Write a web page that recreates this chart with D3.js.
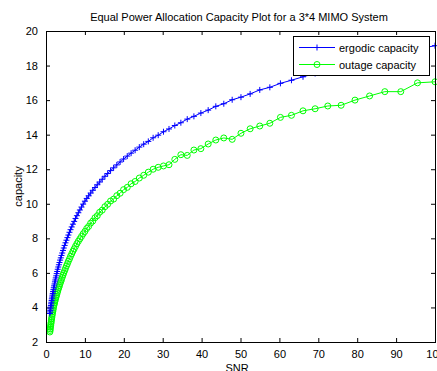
<!DOCTYPE html>
<html>
<head>
<meta charset="utf-8">
<script src="https://cdn.jsdelivr.net/npm/d3@7"></script>
<style>
  html, body { margin: 0; padding: 0; background: #fff; }
  svg { display: block; font-family: "Liberation Sans", Arial, sans-serif; }
</style>
</head>
<body>
<svg id="chart" width="437" height="371"></svg>
<script>
// SNR (linear), one point every 0.2 dB from 0 to 20 dB
const snr = [1.00,1.05,1.10,1.15,1.20,1.26,1.32,1.38,1.45,1.51,
  1.58,1.66,1.74,1.82,1.91,2.00,2.09,2.19,2.29,2.40,
  2.51,2.63,2.75,2.88,3.02,3.16,3.31,3.47,3.63,3.80,
  3.98,4.17,4.37,4.57,4.79,5.01,5.25,5.50,5.75,6.03,
  6.31,6.61,6.92,7.24,7.59,7.94,8.32,8.71,9.12,9.55,
  10.00,10.47,10.96,11.48,12.02,12.59,13.18,13.80,14.45,15.14,
  15.85,16.60,17.38,18.20,19.05,19.95,20.89,21.88,22.91,23.99,
  25.12,26.30,27.54,28.84,30.20,31.62,33.11,34.67,36.31,38.02,
  39.81,41.69,43.65,45.71,47.86,50.12,52.48,54.95,57.54,60.26,
  63.10,66.07,69.18,72.44,75.86,79.43,83.18,87.10,91.20,95.50,
  100.00];

const ergodic = [3.65,3.74,3.83,3.92,4.02,4.11,4.21,4.30,4.40,4.50,
  4.60,4.71,4.81,4.92,5.03,5.14,5.25,5.36,5.48,5.59,
  5.71,5.83,5.96,6.08,6.21,6.34,6.47,6.60,6.74,6.87,
  7.01,7.15,7.30,7.44,7.59,7.74,7.89,8.04,8.19,8.35,
  8.50,8.66,8.82,8.98,9.15,9.31,9.48,9.64,9.81,9.98,
  10.15,10.31,10.46,10.62,10.78,10.94,11.10,11.26,11.42,11.59,
  11.75,11.92,12.08,12.25,12.42,12.59,12.76,12.93,13.10,13.28,
  13.45,13.61,13.82,13.97,14.17,14.33,14.53,14.69,14.90,15.06,
  15.25,15.42,15.64,15.79,16.02,16.17,16.36,16.59,16.74,16.97,
  17.15,17.35,17.54,17.74,17.94,18.14,18.34,18.54,18.74,18.95,
  19.15];

const outage = [2.58,2.67,2.76,2.86,2.95,3.05,3.14,3.24,3.34,3.44,
  3.55,3.65,3.76,3.86,3.97,4.09,4.17,4.26,4.36,4.45,
  4.55,4.64,4.74,4.85,4.95,5.06,5.16,5.27,5.38,5.50,
  5.61,5.74,5.87,6.00,6.13,6.26,6.40,6.53,6.67,6.81,
  6.96,7.10,7.25,7.39,7.54,7.69,7.83,7.97,8.11,8.26,
  8.40,8.57,8.69,8.88,9.00,9.19,9.31,9.51,9.63,9.83,
  9.97,10.16,10.27,10.47,10.61,10.82,10.95,11.16,11.29,11.49,
  11.65,11.83,12.00,12.11,12.19,12.26,12.57,12.84,12.80,13.11,
  13.19,13.46,13.69,13.81,13.73,14.08,14.34,14.50,14.66,15.00,
  15.12,15.38,15.50,15.66,15.70,16.00,16.24,16.49,16.49,17.00,
  17.06];

const xTicks = [0,10,20,30,40,50,60,70,80,90,100];
const yTicks = [2,4,6,8,10,12,14,16,18,20];
const seriesNames = ["ergodic capacity", "outage capacity"];
const seriesColors = ["#0000ff", "#00ff00"];

const svg = d3.select("#chart");
const mLeft = 46, mRight = 435, mTop = 31, mBottom = 342;
const tickLen = 4;

const x = d3.scaleLinear().domain([0, 100]).range([mLeft, mRight]);
const y = d3.scaleLinear().domain([2, 20]).range([mBottom, mTop]);

svg.append("rect").attr("width", 437).attr("height", 371).attr("fill", "#fff");

// axes, ticks pointing inward on all four sides
svg.append("g").attr("transform", `translate(0,${mBottom})`)
  .call(d3.axisBottom(x).tickValues(xTicks).tickSizeInner(-tickLen).tickSizeOuter(0).tickPadding(8));
svg.append("g").attr("transform", `translate(0,${mTop})`)
  .call(d3.axisTop(x).tickValues(xTicks).tickSizeInner(-tickLen).tickSizeOuter(0).tickFormat(""));
svg.append("g").attr("transform", `translate(${mLeft},0)`)
  .call(d3.axisLeft(y).tickValues(yTicks).tickSizeInner(-tickLen).tickSizeOuter(0).tickPadding(8));
svg.append("g").attr("transform", `translate(${mRight},0)`)
  .call(d3.axisRight(y).tickValues(yTicks).tickSizeInner(-tickLen).tickSizeOuter(0).tickFormat(""));
svg.selectAll(".domain").remove();
svg.selectAll(".tick line").attr("stroke", "#000");
svg.selectAll(".tick text").attr("fill", "#000").attr("font-size", 11).attr("font-family", "Liberation Sans, Arial, sans-serif");

const clip = svg.append("clipPath").attr("id", "plotclip");
clip.append("rect").attr("x", mLeft - 4).attr("y", mTop - 4).attr("width", mRight - mLeft + 8).attr("height", mBottom - mTop + 8);

const plot = svg.append("g").attr("clip-path", "url(#plotclip)");
const line = d3.line().x(d => x(d[0])).y(d => y(d[1]));

function drawPlus(g, cx, cy, color) {
  g.append("path").attr("d", `M${cx - 3},${cy}H${cx + 3}M${cx},${cy - 3}V${cy + 3}`)
    .attr("stroke", color).attr("stroke-width", 1).attr("fill", "none");
}
function drawCircle(g, cx, cy, color) {
  g.append("circle").attr("cx", cx).attr("cy", cy).attr("r", 3)
    .attr("stroke", color).attr("stroke-width", 1).attr("fill", "none");
}

const ergPts = snr.map((s, i) => [s, ergodic[i]]);
const outPts = snr.map((s, i) => [s, outage[i]]);

plot.append("path").datum(outPts).attr("d", line).attr("fill", "none").attr("stroke", seriesColors[1]).attr("stroke-width", 1);
outPts.forEach(p => drawCircle(plot, x(p[0]), y(p[1]), seriesColors[1]));
plot.append("path").datum(ergPts).attr("d", line).attr("fill", "none").attr("stroke", seriesColors[0]).attr("stroke-width", 1);
ergPts.forEach(p => drawPlus(plot, x(p[0]), y(p[1]), seriesColors[0]));

// axes box
svg.append("rect").attr("x", mLeft).attr("y", mTop).attr("width", mRight - mLeft).attr("height", mBottom - mTop)
  .attr("fill", "none").attr("stroke", "#000").attr("stroke-width", 1).attr("shape-rendering", "crispEdges");

// legend
const legend = svg.append("g");
legend.append("rect").attr("x", 293).attr("y", 36).attr("width", 136).attr("height", 39)
  .attr("fill", "#fff").attr("stroke", "#000").attr("stroke-width", 1).attr("shape-rendering", "crispEdges");
seriesNames.forEach((name, i) => {
  const ly = 47.5 + i * 17;
  legend.append("line").attr("x1", 299).attr("x2", 335).attr("y1", ly).attr("y2", ly)
    .attr("stroke", seriesColors[i]).attr("stroke-width", 1);
  if (i === 0) drawPlus(legend, 317, ly, seriesColors[i]);
  else drawCircle(legend, 317, ly, seriesColors[i]);
  legend.append("text").attr("x", 339).attr("y", ly + 4).attr("font-size", 11).attr("fill", "#000").text(name);
});

// title and labels
svg.append("text").attr("x", 239).attr("y", 21).attr("text-anchor", "middle").attr("font-size", 11)
  .attr("fill", "#000").text("Equal Power Allocation Capacity Plot for a 3*4 MIMO System");
svg.append("text").attr("x", 237).attr("y", 372).attr("text-anchor", "middle").attr("font-size", 11)
  .attr("fill", "#000").text("SNR");
svg.append("text").attr("transform", `translate(22,${(mTop + mBottom) / 2}) rotate(-90)`).attr("text-anchor", "middle")
  .attr("font-size", 11).attr("fill", "#000").text("capacity");
</script>
</body>
</html>
